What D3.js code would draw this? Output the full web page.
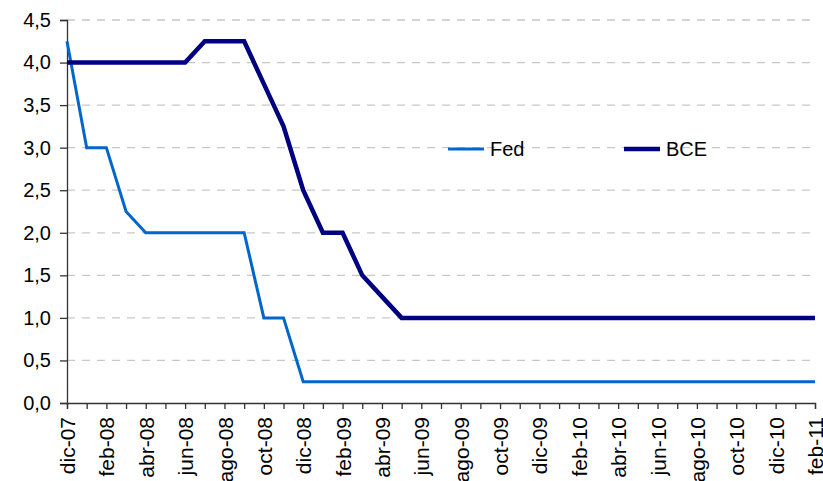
<!DOCTYPE html>
<html>
  <head>
    <title>Fed vs BCE</title>
    <meta charset="utf-8">
    <script type="text/javascript" src="https://cdn.jsdelivr.net/npm/d3@7"></script>
    <style>
    body {
      margin: 0;
      background: #fff;
    }
    text {
      font-family: "Liberation Sans", Arial, sans-serif;
      font-size: 20px;
      fill: #000;
    }
    .grid line {
      stroke: #c8c8c8;
      stroke-width: 1.3;
      stroke-dasharray: 8,7;
    }
    .line {
      fill: none;
      stroke-linejoin: miter;
    }
    </style>
  </head>
  <body>
    <div id="chart"></div>
    <script type="text/javascript">

      // months, dic-07 .. feb-11
      var months = ['dic-07',
        'ene-08','feb-08','mar-08','abr-08','may-08','jun-08','jul-08','ago-08','sep-08','oct-08','nov-08','dic-08',
        'ene-09','feb-09','mar-09','abr-09','may-09','jun-09','jul-09','ago-09','sep-09','oct-09','nov-09','dic-09',
        'ene-10','feb-10','mar-10','abr-10','may-10','jun-10','jul-10','ago-10','sep-10','oct-10','nov-10','dic-10',
        'ene-11','feb-11'];

      var fed = [4.25,
        3.0,3.0,2.25,2.0,2.0,2.0,2.0,2.0,2.0,1.0,1.0,0.25,
        0.25,0.25,0.25,0.25,0.25,0.25,0.25,0.25,0.25,0.25,0.25,0.25,
        0.25,0.25,0.25,0.25,0.25,0.25,0.25,0.25,0.25,0.25,0.25,0.25,
        0.25,0.25];

      var bce = [4.0,
        4.0,4.0,4.0,4.0,4.0,4.0,4.25,4.25,4.25,3.75,3.25,2.5,
        2.0,2.0,1.5,1.25,1.0,1.0,1.0,1.0,1.0,1.0,1.0,1.0,
        1.0,1.0,1.0,1.0,1.0,1.0,1.0,1.0,1.0,1.0,1.0,1.0,
        1.0,1.0];

      var yTicks = [0,0.5,1,1.5,2,2.5,3,3.5,4,4.5];

      var seriesNames = ['Fed','BCE'];
      var seriesColors = ['#0066cc','#000080'];

      var width = 823, height = 481;
      var margin = {top: 20, right: 8, bottom: 78, left: 67};

      var svg = d3.select('#chart').append('svg')
        .attr('width', width)
        .attr('height', height);

      var x = d3.scalePoint()
        .domain(months)
        .range([margin.left, width - margin.right]);
      var y = d3.scaleLinear()
        .domain([0, 4.5])
        .range([height - margin.bottom, margin.top]);

      // grid
      svg.append('g')
        .attr('class','grid')
        .selectAll('line')
        .data(yTicks.slice(1))
        .enter()
        .append('line')
        .attr('x1', x.range()[0])
        .attr('x2', x.range()[1])
        .attr('y1', function(d){ return y(d); })
        .attr('y2', function(d){ return y(d); });

      // y axis
      var yAxis = svg.append('g')
        .attr('transform','translate(' + margin.left + ',0)')
        .call(d3.axisLeft(y)
          .tickValues(yTicks)
          .tickSize(7)
          .tickPadding(9)
          .tickFormat(function(d){ return d3.format('.1f')(d).replace('.', ','); }));

      // x axis
      var xAxis = svg.append('g')
        .attr('transform','translate(0,' + y(0) + ')')
        .call(d3.axisBottom(x)
          .tickSize(6)
          .tickFormat(function(d, i){ return i % 2 === 0 ? d : ''; }));

      [yAxis, xAxis].forEach(function(a){
        a.selectAll('.domain').attr('stroke','#333').attr('stroke-width',1.3);
        a.selectAll('.tick line').attr('stroke','#333').attr('stroke-width',1.3);
        a.selectAll('text').style('font-size','20px').attr('fill','#000');
      });

      xAxis.selectAll('text')
        .attr('transform','rotate(-90)')
        .attr('text-anchor','end')
        .attr('x', -14)
        .attr('y', 0)
        .attr('dy','0.36em')
        .style('font-size','21px');

      // lines
      var line = d3.line()
        .x(function(d, i){ return x(months[i]); })
        .y(function(d){ return y(d); });

      svg.append('path')
        .datum(fed)
        .attr('class','line')
        .attr('stroke', seriesColors[0])
        .attr('stroke-width', 3)
        .attr('d', line);

      svg.append('path')
        .datum(bce)
        .attr('class','line')
        .attr('stroke', seriesColors[1])
        .attr('stroke-width', 4.5)
        .attr('d', line);

      // legend
      var legendX = [448, 624];
      var legend = svg.selectAll('.legend')
        .data(seriesNames)
        .enter()
        .append('g')
        .attr('class','legend')
        .attr('transform', function(d, i){ return 'translate(' + legendX[i] + ',149)'; });
      legend.append('line')
        .attr('x1', 0)
        .attr('x2', 36)
        .attr('stroke', function(d, i){ return seriesColors[i]; })
        .attr('stroke-width', function(d, i){ return i === 0 ? 3 : 4.5; });
      legend.append('text')
        .attr('x', 42)
        .attr('y', 7)
        .text(function(d){ return d; });
    </script>
  </body>
</html>
